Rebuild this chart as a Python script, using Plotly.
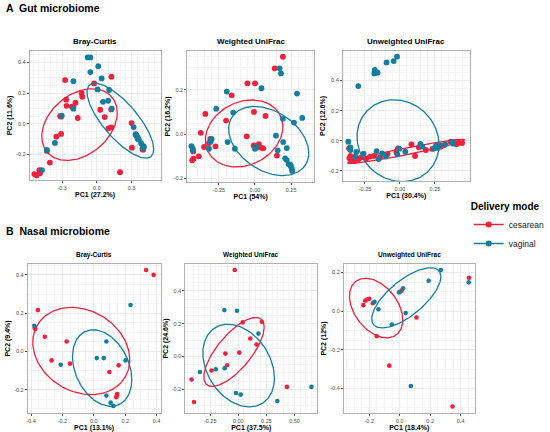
import numpy as np
import plotly.graph_objects as go

RED = '#F2203C'
TEAL = '#137E9F'

# ---- Gut microbiome, Bray-Curtis
gut_bc_ces_x = [-0.274, 0.126, -0.024, -0.132, -0.126, -0.265, -0.185, -0.262, -0.203, -0.215, 0.029, 0.124, -0.318, -0.309,
                -0.165, 0.068, 0.1, 0.124, 0.3, -0.309, -0.35, -0.432, -0.406, 0.303, 0.4, -0.54, -0.52, -0.497, -0.491,
                0.2, 0.335, 0.394]
gut_bc_ces_y = [0.285, 0.307, 0.263, 0.2, 0.176, 0.157, 0.137, 0.117, 0.111, 0.111, 0.091, 0.093, 0.05, 0.046,
                0.037, 0.043, -0.03, -0.024, 0.004, -0.067, -0.085, -0.178, -0.254, -0.157, -0.17, -0.329, -0.337, -0.303, -0.324,
                -0.317, -0.068, -0.167]
gut_bc_vag_x = [-0.079, -0.056, -0.056, 0.012, 0.041, -0.203, 0.006, 0.106, 0.053, 0.097, 0.129, -0.203, -0.303, 0.318,
                0.335, 0.344, 0.353, 0.362, 0.403, 0.406, 0.341, 0.353, 0.382, 0.397, -0.362, -0.432, -0.474]
gut_bc_vag_y = [0.433, 0.433, 0.337, 0.376, 0.296, 0.278, 0.224, 0.220, 0.143, 0.150, 0.098, 0.098, 0.052, -0.022,
                -0.072, -0.080, -0.089, -0.102, -0.146, -0.154, -0.076, -0.1, -0.128, -0.161, -0.126, -0.172, -0.303]

# ---- Gut microbiome, Weighted UniFrac
gut_wu_ces_x = [0.193, 0.136, -0.052, 0.0, -0.161, -0.343, -0.2, -0.007, 0.073, -0.375, -0.309, -0.318, -0.352, -0.273,
                -0.057, -0.009, 0.027, 0.016, 0.043, 0.057, 0.007, -0.427, -0.389, -0.425, -0.434, 0.152]
gut_wu_ces_y = [0.349, 0.297, 0.229, 0.229, 0.175, 0.091, 0.061, 0.1, 0.082, 0.006, -0.021, -0.04, -0.058, -0.055,
                -0.01, -0.051, -0.045, -0.06, -0.061, -0.064, -0.058, -0.078, -0.1, -0.111, -0.118, -0.097]
gut_wu_vag_x = [0.170, 0.180, 0.045, -0.195, 0.291, -0.268, -0.15, 0.327, 0.193, 0.27, 0.145, -0.3, -0.307, -0.189,
                -0.439, -0.43, -0.43, -0.318, -0.139, 0.0, 0.009, 0.195, 0.22, 0.157, 0.209, 0.22, 0.232, 0.245,
                0.248, 0.255, 0.257]
gut_wu_vag_y = [0.297, 0.274, 0.207, 0.192, 0.183, 0.115, 0.097, 0.073, 0.069, 0.052, -0.007, -0.022, -0.034, -0.036,
                -0.054, -0.066, -0.073, -0.066, -0.066, -0.066, -0.058, -0.036, -0.063, -0.073, -0.109, -0.117, -0.135, -0.138,
                -0.145, -0.157, -0.166]

# ---- Gut microbiome, Unweighted UniFrac
gut_uu_ces_x = [-0.364, -0.354, -0.361, -0.35, -0.322, -0.296, -0.279, -0.242, -0.214, -0.185, -0.143, -0.089, -0.026, -0.014,
                0.082, 0.108, 0.134, 0.185, 0.232, 0.256, 0.291, 0.315, 0.362, 0.392, 0.42, 0.444, 0.404]
gut_uu_ces_y = [-0.051, -0.102, -0.117, -0.128, -0.135, -0.124, -0.111, -0.12, -0.106, -0.102, -0.111, -0.089, -0.073, -0.051,
                -0.024, -0.102, -0.044, -0.062, -0.055, -0.04, -0.04, -0.029, -0.007, -0.013, -0.013, -0.016, -0.024]
gut_uu_vag_x = [-0.021, -0.045, -0.096, -0.18, -0.176, -0.167, -0.183, -0.16, -0.298, -0.369, -0.354, -0.354, -0.312, -0.319,
                -0.26, -0.167, -0.127, -0.153, -0.101, -0.005, 0.038, -0.019, 0.146, 0.16, 0.242, 0.258, 0.27, 0.282,
                0.324, 0.373, 0.38]
gut_uu_vag_y = [0.558, 0.529, 0.520, 0.47, 0.456, 0.454, 0.447, 0.452, 0.363, -0.007, -0.044, -0.062, -0.075, -0.106,
                -0.086, -0.069, -0.084, -0.122, -0.106, -0.053, -0.073, -0.091, -0.022, -0.04, -0.051, -0.033, -0.049, -0.029,
                -0.024, -0.009, -0.02]

# ---- Nasal microbiome, Bray-Curtis
nas_bc_ces_x = [0.333, 0.381, -0.356, -0.377, -0.372, -0.312, -0.173, -0.269, -0.152, 0.099, 0.158, 0.147, 0.143, 0.149]
nas_bc_ces_y = [0.426, 0.4, 0.216, 0.122, 0.118, 0.077, 0.052, -0.047, -0.064, -0.108, -0.073, -0.23, -0.24, -0.223]
nas_bc_vag_x = [-0.379, 0.234, 0.08, 0.019, 0.063, 0.202, -0.211, 0.08, 0.107, 0.124]
nas_bc_vag_y = [0.134, 0.243, 0.052, -0.035, -0.035, -0.047, -0.07, -0.231, -0.268, -0.285]

# ---- Nasal microbiome, Weighted UniFrac
nas_wu_ces_x = [-0.032, 0.038, 0.209, 0.106, 0.162, -0.115, 0.009, -0.1, -0.238, -0.415, -0.394, 0.432]
nas_wu_ces_y = [0.527, 0.208, 0.212, 0.11, 0.073, 0.018, 0.024, -0.053, -0.085, -0.14, -0.277, -0.185]
nas_wu_vag_x = [-0.124, -0.012, 0.179, -0.341, -0.2, -0.121, -0.021, 0.021, 0.347, 0.65]
nas_wu_vag_y = [0.283, 0.279, 0.14, -0.094, -0.077, -0.071, -0.222, -0.232, -0.271, -0.185]

# ---- Nasal microbiome, Unweighted UniFrac
nas_uu_ces_x = [-0.239, -0.227, -0.216, -0.2, -0.177, 0.004, 0.013, 0.11, -0.151, -0.069, 0.347, 0.455]
nas_uu_ces_y = [0.031, 0.054, 0.06, 0.064, 0.041, 0.1, 0.107, -0.033, -0.13, -0.282, -0.493, 0.173]
nas_uu_vag_x = [-0.166, -0.14, -0.004, 0.022, 0.039, -0.052, 0.19, 0.27, 0.453, 0.073]
nas_uu_vag_y = [0.048, 0.01, 0.097, 0.118, -0.01, -0.069, 0.157, 0.213, 0.149, -0.387]

# ellipses: centre x, centre y, half width, half height, tilt (rho)
ell_ces = [(-0.150, -0.006, 0.326, 0.234, 0.33),
           (-0.075, 0.003, 0.268, 0.151, 0.2),
           (0.045, -0.071, 0.418, 0.080, 0.957),
           (-0.080, 0.002, 0.309, 0.228, -0.2),
           (-0.038, 0.028, 0.268, 0.210, 0.72),
           (-0.155, 0.016, 0.175, 0.154, -0.4)]
ell_vag = [(0.203, 0.020, 0.288, 0.245, -0.76),
           (0.095, -0.031, 0.277, 0.156, -0.35),
           (-0.014, 0.0, 0.293, 0.272, -0.1),
           (0.053, -0.087, 0.189, 0.200, -0.3),
           (0.003, -0.055, 0.318, 0.252, -0.3),
           (0.043, 0.069, 0.227, 0.156, 0.7)]

titles = ['Bray-Curtis', 'Weighted UniFrac', 'Unweighted UniFrac',
          'Bray-Curtis', 'Weighted UniFrac', 'Unweighted UniFrac']
x_titles = ['PC1 (27.2%)', 'PC1 (54%)', 'PC1 (30.4%)', 'PC1 (13.1%)', 'PC1 (37.5%)', 'PC1 (18.4%)']
y_titles = ['PC2 (11.6%)', 'PC2 (16.2%)', 'PC2 (12.6%)', 'PC2 (9.4%)', 'PC2 (24.6%)', 'PC2 (12%)']
x_ticks = [[-0.3, 0.0, 0.3], [-0.25, 0.0, 0.25], [-0.25, 0.0, 0.25],
           [-0.4, -0.2, 0.0, 0.2, 0.4], [-0.25, 0.0, 0.25, 0.5], [-0.2, 0.0, 0.2, 0.4]]
y_ticks = [[-0.2, 0.0, 0.2, 0.4], [-0.2, 0.0, 0.2], [-0.2, 0.0, 0.2, 0.4],
           [-0.2, 0.0, 0.2, 0.4], [-0.2, 0.0, 0.2, 0.4], [-0.4, -0.2, 0.0, 0.2]]
x_fmt = ['%.1f', '%.2f', '%.2f', '%.1f', '%.2f', '%.1f']

series = [(gut_bc_ces_x, gut_bc_ces_y, gut_bc_vag_x, gut_bc_vag_y),
          (gut_wu_ces_x, gut_wu_ces_y, gut_wu_vag_x, gut_wu_vag_y),
          (gut_uu_ces_x, gut_uu_ces_y, gut_uu_vag_x, gut_uu_vag_y),
          (nas_bc_ces_x, nas_bc_ces_y, nas_bc_vag_x, nas_bc_vag_y),
          (nas_wu_ces_x, nas_wu_ces_y, nas_wu_vag_x, nas_wu_vag_y),
          (nas_uu_ces_x, nas_uu_ces_y, nas_uu_vag_x, nas_uu_vag_y)]

# layout (pixels in the 550x432 page)
W, H = 550, 432
boxes = [(30, 162, 51, 180), (189, 317, 51, 182), (346, 474, 51, 181),
         (28, 162, 264, 413), (187, 320, 264, 413), (347, 479, 264, 413)]
x_ranges = [[-0.58, 0.55], [-0.468, 0.409], [-0.408, 0.498], [-0.421, 0.425], [-0.471, 0.70], [-0.367, 0.492]]
y_ranges = [[-0.368, 0.475], [-0.216, 0.375], [-0.268, 0.596], [-0.322, 0.457], [-0.344, 0.564], [-0.527, 0.244]]

FONT = 'Liberation Sans'
t = np.linspace(0, 2 * np.pi, 200)

def ellipse(p):
    cx, cy, rx, ry, rho = p
    ex = cx + rx * np.cos(t)
    ey = cy + ry * (rho * np.cos(t) + np.sqrt(1 - rho ** 2) * np.sin(t))
    return ex, ey

fig = go.Figure()
annotations = []
for i in range(6):
    n = '' if i == 0 else str(i + 1)
    xa, ya = 'x' + n, 'y' + n
    cx, cy, vx, vy = series[i]
    msize = 5.8 if i < 3 else 4.6
    for (px, py, col, el) in [(cx, cy, RED, ell_ces[i]), (vx, vy, TEAL, ell_vag[i])]:
        fig.add_trace(go.Scatter(x=px, y=py, mode='markers', xaxis=xa, yaxis=ya, showlegend=False,
                                 marker=dict(color=col, size=msize, line=dict(width=0))))
        ex, ey = ellipse(el)
        fig.add_trace(go.Scatter(x=ex, y=ey, mode='lines', xaxis=xa, yaxis=ya, showlegend=False,
                                 line=dict(color=col, width=1.3)))
    l, r, top, bot = boxes[i]
    small = i >= 3
    axis_common = dict(showgrid=True, gridcolor='#EBEBEB', gridwidth=0.8, zeroline=False, automargin=False,
                       showline=True, mirror=True, linecolor='#B0B0B0', linewidth=1,
                       ticks='outside', ticklen=2, tickcolor='#555555',
                       tickfont=dict(family=FONT, size=5.5, color='#4D4D4D'),
                       minor=dict(showgrid=True, gridcolor='#F4F4F4', gridwidth=0.6))
    fig.layout['xaxis' + n] = dict(axis_common, domain=[l / W, r / W], anchor=ya, range=x_ranges[i],
                                   tickvals=x_ticks[i], ticktext=[x_fmt[i] % v for v in x_ticks[i]],
                                   title=dict(text='<b>%s</b>' % x_titles[i], standoff=2,
                                              font=dict(family=FONT, size=7, color='black')))
    fig.layout['yaxis' + n] = dict(axis_common, domain=[1 - bot / H, 1 - top / H], anchor=xa, range=y_ranges[i],
                                   tickvals=y_ticks[i], ticktext=['%.1f' % v for v in y_ticks[i]],
                                   title=dict(text='<b>%s</b>' % y_titles[i], standoff=2,
                                              font=dict(family=FONT, size=7, color='black')))
    annotations.append(dict(text='<b>%s</b>' % titles[i], x=(l + r) / 2 / W, y=1 - (top - 3) / H,
                            xref='paper', yref='paper', xanchor='center', yanchor='bottom', showarrow=False,
                            font=dict(family=FONT, size=6.5 if small else 8, color='black')))

annotations.append(dict(text='<b>A  Gut microbiome</b>', x=4 / W, y=1, xref='paper', yref='paper',
                        xanchor='left', yanchor='top', showarrow=False, font=dict(family=FONT, size=10.5, color='black')))
annotations.append(dict(text='<b>B  Nasal microbiome</b>', x=4 / W, y=1 - 223 / H, xref='paper', yref='paper',
                        xanchor='left', yanchor='top', showarrow=False, font=dict(family=FONT, size=10.5, color='black')))

# legend entries
for name, col in [('cesarean', RED), ('vaginal', TEAL)]:
    fig.add_trace(go.Scatter(x=[None], y=[None], mode='lines+markers', name=name,
                             marker=dict(color=col, size=6), line=dict(color=col, width=1.3)))

fig.update_layout(
    width=W, height=H,
    margin=dict(l=0, r=0, t=0, b=0),
    paper_bgcolor='white', plot_bgcolor='white',
    annotations=annotations,
    legend=dict(x=473 / W, y=1 - 197 / H, xanchor='left', yanchor='top',
                title=dict(text='<b>Delivery mode</b>', font=dict(family=FONT, size=10, color='black')),
                font=dict(family=FONT, size=8.5, color='#222222'), itemwidth=30, tracegroupgap=0,
                bgcolor='rgba(0,0,0,0)'),
)

# the page body has a default margin, drop it so the figure sits at 0,0
fig.write_html('out.html', config={'displayModeBar': False},
               post_script="document.body.style.margin='0';")
